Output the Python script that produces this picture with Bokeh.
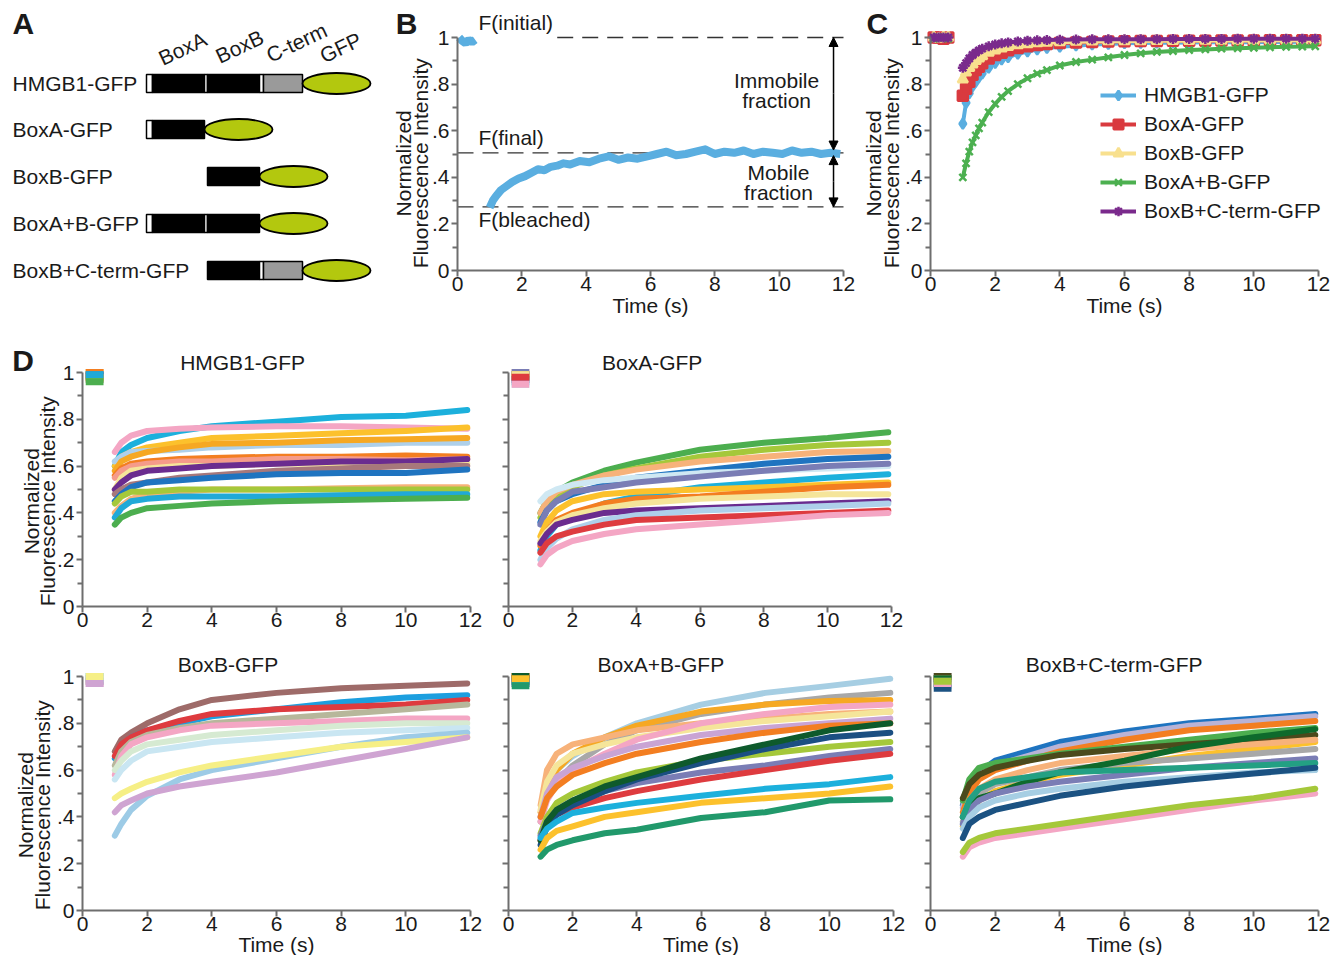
import math
from bokeh.plotting import figure
from bokeh.models import (Range1d, FixedTicker, CustomJSTickFormatter, Label,
                          Arrow, NormalHead, ColumnDataSource)
from bokeh.layouts import column, row
from bokeh.embed import file_html
from bokeh.resources import INLINE
from bokeh.core.properties import value

FONT = "Liberation Sans"
FS = "21px"
TXT = "#1a1a1a"
AXC = "#6e6e6e"

# ---------------- Panel A : construct diagram ----------------
CONSTRUCTS = ["HMGB1-GFP", "BoxA-GFP", "BoxB-GFP", "BoxA+B-GFP", "BoxB+C-term-GFP"]
SEG_EDGES = [146, 152, 204, 207, 259, 263, 302]          # diagram units
SEG_KIND = ["linker", "box", "linker", "box", "linker", "cterm"]
CONSTRUCT_SEGS = [[0, 1, 2, 3, 4, 5], [0, 1], [3], [0, 1, 2, 3], [3, 4, 5]]
ROW_Y = [83, 129, 176, 223, 270]
GFP_LEN = 68
DOMAIN_NAMES = ["BoxA", "BoxB", "C-term", "GFP"]
DOMAIN_NAME_X = [182, 239, 296, 340]
DOMAIN_NAME_Y = [48, 46, 42, 47]

# ---------------- Panel B : single FRAP curve ----------------
T_B_PRE = [0.05, 0.15, 0.25, 0.35, 0.45, 0.55]
B_PRE = [1.0, 0.985, 0.975, 0.99, 0.98, 0.99]
T_B = [1.0, 1.1, 1.2, 1.35, 1.5, 1.7, 1.9, 2.1, 2.3, 2.5, 2.7, 2.9, 3.1, 3.3, 3.5,
       3.8, 4.1, 4.4, 4.7, 5.0, 5.3, 5.6, 5.9, 6.2, 6.5, 6.8, 7.1, 7.4, 7.7, 8.0,
       8.3, 8.6, 8.9, 9.2, 9.5, 9.8, 10.1, 10.4, 10.7, 11.0, 11.3, 11.6, 11.9]
B_VALS = [0.27, 0.30, 0.32, 0.345, 0.36, 0.38, 0.395, 0.405, 0.42, 0.435, 0.43, 0.445,
          0.45, 0.46, 0.455, 0.47, 0.465, 0.48, 0.49, 0.475, 0.485, 0.48, 0.49, 0.50,
          0.51, 0.495, 0.50, 0.51, 0.52, 0.50, 0.51, 0.505, 0.515, 0.50, 0.51, 0.505,
          0.50, 0.515, 0.505, 0.51, 0.50, 0.505, 0.50]
F_INITIAL = 1.0
F_FINAL = 0.505
F_BLEACHED = 0.273

# ---------------- Panel C : averaged curves ----------------
C_NAMES = ["HMGB1-GFP", "BoxA-GFP", "BoxB-GFP", "BoxA+B-GFP", "BoxB+C-term-GFP"]
C_COLORS = ["#5aaee0", "#d93a3f", "#f8e08e", "#4cb050", "#7a2a8c"]
C_MARKERS = ["diamond", "square", "triangle", "x", "asterisk"]
T_C_PRE = [0.1, 0.25, 0.4, 0.55]
C_PRE = [[1.0, 0.995, 1.0, 0.995], [1.0, 1.0, 0.995, 1.0], [1.0, 0.995, 1.0, 1.0],
         [0.995, 1.0, 1.0, 0.995], [1.0, 1.0, 1.0, 1.0]]
T_C = [1.0, 1.1, 1.2, 1.3, 1.4, 1.5, 1.6, 1.8, 2.0, 2.2, 2.4, 2.7, 3.0, 3.3, 3.6, 4.0,
       4.5, 5.0, 5.5, 6.0, 6.5, 7.0, 7.5, 8.0, 8.5, 9.0, 9.5, 10.0, 10.5, 11.0, 11.5, 11.9]
C_HMGB1 = [0.63, 0.72, 0.76, 0.79, 0.81, 0.83, 0.845, 0.87, 0.89, 0.905, 0.915, 0.93,
           0.94, 0.948, 0.955, 0.96, 0.965, 0.97, 0.972, 0.975, 0.976, 0.977, 0.978,
           0.979, 0.98, 0.98, 0.98, 0.98, 0.981, 0.981, 0.982, 0.982]
C_BOXA = [0.75, 0.78, 0.81, 0.84, 0.86, 0.875, 0.89, 0.91, 0.925, 0.935, 0.945, 0.955,
          0.962, 0.968, 0.972, 0.976, 0.979, 0.981, 0.983, 0.984, 0.985, 0.985, 0.986,
          0.986, 0.986, 0.987, 0.987, 0.987, 0.988, 0.988, 0.988, 0.988]
C_BOXB = [0.82, 0.85, 0.87, 0.885, 0.9, 0.91, 0.92, 0.935, 0.945, 0.953, 0.96, 0.967,
          0.972, 0.976, 0.978, 0.98, 0.982, 0.983, 0.984, 0.985, 0.985, 0.986, 0.986,
          0.986, 0.987, 0.987, 0.987, 0.987, 0.988, 0.988, 0.988, 0.988]
C_BOXAB = [0.40, 0.46, 0.51, 0.55, 0.58, 0.61, 0.635, 0.68, 0.715, 0.745, 0.77, 0.80,
           0.825, 0.845, 0.86, 0.88, 0.895, 0.905, 0.915, 0.925, 0.932, 0.938, 0.942,
           0.946, 0.949, 0.952, 0.954, 0.956, 0.958, 0.96, 0.961, 0.962]
C_BOXBC = [0.87, 0.89, 0.91, 0.925, 0.935, 0.945, 0.952, 0.962, 0.97, 0.975, 0.979,
           0.983, 0.986, 0.988, 0.989, 0.99, 0.991, 0.992, 0.992, 0.993, 0.993, 0.993,
           0.994, 0.994, 0.994, 0.994, 0.995, 0.995, 0.995, 0.995, 0.995, 0.995]

# ---------------- Panel D : individual cells ----------------
T_D_PRE = [0.1, 0.35, 0.65]
T_D = [1.0, 1.2, 1.5, 2.0, 3.0, 4.0, 6.0, 8.0, 10.0, 11.9]

D1_COLORS = ["#1cb0dc", "#f4a6c4", "#fcc12c", "#aed0ea", "#f6a823", "#f37e21", "#f59b8a",
             "#f5e59a", "#6a2c8f", "#a7787b", "#1f74c0", "#f7b27a", "#a5c83a", "#20a9d8",
             "#4cae4f"]
D1_PRE = [0.99, 0.98, 1.0, 0.99, 0.985, 1.0, 0.98, 0.99, 0.985, 0.97, 0.99, 0.98, 0.975,
          0.99, 0.96]
D1_POST = [
    [0.60, 0.66, 0.69, 0.72, 0.75, 0.77, 0.79, 0.81, 0.815, 0.84],
    [0.66, 0.70, 0.73, 0.75, 0.76, 0.765, 0.77, 0.77, 0.765, 0.76],
    [0.60, 0.64, 0.66, 0.68, 0.70, 0.72, 0.73, 0.74, 0.75, 0.765],
    [0.62, 0.64, 0.66, 0.665, 0.67, 0.68, 0.69, 0.69, 0.70, 0.70],
    [0.58, 0.62, 0.64, 0.66, 0.68, 0.695, 0.70, 0.71, 0.715, 0.72],
    [0.56, 0.59, 0.61, 0.62, 0.63, 0.635, 0.64, 0.64, 0.645, 0.64],
    [0.55, 0.58, 0.60, 0.61, 0.62, 0.62, 0.63, 0.63, 0.625, 0.63],
    [0.50, 0.55, 0.58, 0.59, 0.60, 0.60, 0.61, 0.61, 0.61, 0.61],
    [0.50, 0.53, 0.56, 0.58, 0.59, 0.60, 0.61, 0.62, 0.62, 0.63],
    [0.48, 0.50, 0.52, 0.53, 0.55, 0.56, 0.58, 0.59, 0.60, 0.60],
    [0.45, 0.48, 0.51, 0.53, 0.54, 0.55, 0.565, 0.57, 0.57, 0.585],
    [0.40, 0.43, 0.46, 0.48, 0.49, 0.50, 0.50, 0.505, 0.51, 0.51],
    [0.44, 0.47, 0.49, 0.49, 0.50, 0.50, 0.50, 0.50, 0.50, 0.50],
    [0.38, 0.42, 0.45, 0.46, 0.47, 0.47, 0.47, 0.475, 0.48, 0.48],
    [0.35, 0.38, 0.40, 0.42, 0.43, 0.44, 0.45, 0.455, 0.46, 0.465],
]

D2_COLORS = ["#4cae4f", "#a5c83a", "#f7b27a", "#1f74c0", "#cfe8f3", "#7a7db5", "#1cb0dc",
             "#fcc12c", "#f37e21", "#f5e59a", "#6a2c8f", "#aed0ea", "#de3b3f", "#f4a6c4"]
D2_PRE = [0.99, 0.98, 1.0, 0.99, 0.97, 1.0, 0.96, 0.99, 0.98, 0.99, 0.97, 0.95, 0.98, 0.95]
D2_POST = [
    [0.40, 0.45, 0.49, 0.53, 0.58, 0.615, 0.67, 0.70, 0.72, 0.745],
    [0.38, 0.43, 0.47, 0.51, 0.56, 0.59, 0.64, 0.67, 0.69, 0.70],
    [0.40, 0.45, 0.49, 0.52, 0.56, 0.585, 0.62, 0.64, 0.66, 0.665],
    [0.36, 0.41, 0.45, 0.48, 0.52, 0.55, 0.58, 0.61, 0.63, 0.64],
    [0.45, 0.48, 0.50, 0.52, 0.54, 0.55, 0.57, 0.58, 0.59, 0.60],
    [0.35, 0.41, 0.45, 0.49, 0.51, 0.53, 0.555, 0.58, 0.60, 0.61],
    [0.24, 0.30, 0.35, 0.39, 0.44, 0.47, 0.51, 0.53, 0.55, 0.565],
    [0.30, 0.36, 0.41, 0.45, 0.48, 0.49, 0.50, 0.51, 0.52, 0.53],
    [0.26, 0.32, 0.37, 0.40, 0.44, 0.46, 0.47, 0.49, 0.51, 0.52],
    [0.28, 0.32, 0.36, 0.39, 0.42, 0.44, 0.46, 0.47, 0.48, 0.48],
    [0.27, 0.31, 0.35, 0.37, 0.40, 0.41, 0.42, 0.43, 0.44, 0.45],
    [0.20, 0.25, 0.29, 0.33, 0.37, 0.39, 0.41, 0.42, 0.43, 0.44],
    [0.23, 0.27, 0.30, 0.32, 0.35, 0.37, 0.38, 0.39, 0.40, 0.41],
    [0.18, 0.22, 0.25, 0.28, 0.31, 0.33, 0.35, 0.37, 0.39, 0.40],
]

D3_COLORS = ["#9e6b69", "#1c9fdf", "#de3b3f", "#b7b79b", "#f4a6c4", "#d6ead2", "#c9e6f2",
             "#9dcbe6", "#f6ef86", "#cfa4d2"]
D3_PRE = [0.99, 1.0, 0.98, 0.99, 0.97, 1.0, 0.99, 0.98, 1.0, 0.97]
D3_POST = [
    [0.68, 0.73, 0.76, 0.80, 0.86, 0.90, 0.93, 0.95, 0.96, 0.97],
    [0.65, 0.70, 0.74, 0.77, 0.80, 0.83, 0.86, 0.89, 0.91, 0.92],
    [0.66, 0.71, 0.74, 0.77, 0.81, 0.84, 0.86, 0.87, 0.88, 0.90],
    [0.62, 0.68, 0.72, 0.75, 0.78, 0.80, 0.82, 0.84, 0.86, 0.88],
    [0.58, 0.66, 0.71, 0.74, 0.77, 0.79, 0.80, 0.81, 0.82, 0.82],
    [0.60, 0.64, 0.68, 0.71, 0.73, 0.75, 0.77, 0.79, 0.80, 0.80],
    [0.56, 0.60, 0.64, 0.68, 0.70, 0.72, 0.74, 0.76, 0.77, 0.78],
    [0.32, 0.37, 0.43, 0.49, 0.56, 0.60, 0.65, 0.70, 0.74, 0.76],
    [0.48, 0.50, 0.52, 0.55, 0.59, 0.62, 0.66, 0.70, 0.72, 0.74],
    [0.42, 0.45, 0.47, 0.50, 0.53, 0.55, 0.59, 0.64, 0.69, 0.74],
]

D4_COLORS = ["#a6cee3", "#a8a8a8", "#f6a823", "#f7b27a", "#f5e59a", "#f4a6c4", "#c9a4d4",
             "#f37e21", "#a5c83a", "#7a7db5", "#de3b3f", "#1b4f82", "#0e5a2c", "#1cb0dc",
             "#fcc12c", "#21996b"]
D4_PRE = [0.99, 0.98, 1.0, 0.99, 0.98, 0.99, 0.97, 1.0, 0.99, 0.98, 0.99, 0.97, 1.0, 0.98,
          0.99, 0.96]
D4_POST = [
    [0.40, 0.52, 0.60, 0.66, 0.74, 0.80, 0.88, 0.93, 0.96, 0.99],
    [0.38, 0.48, 0.55, 0.62, 0.71, 0.77, 0.84, 0.88, 0.91, 0.93],
    [0.42, 0.52, 0.60, 0.67, 0.74, 0.79, 0.85, 0.88, 0.895, 0.90],
    [0.45, 0.60, 0.67, 0.71, 0.74, 0.77, 0.80, 0.82, 0.84, 0.85],
    [0.43, 0.55, 0.62, 0.67, 0.71, 0.74, 0.78, 0.81, 0.83, 0.85],
    [0.38, 0.47, 0.54, 0.60, 0.67, 0.73, 0.80, 0.84, 0.87, 0.88],
    [0.40, 0.50, 0.57, 0.61, 0.66, 0.70, 0.75, 0.78, 0.80, 0.82],
    [0.40, 0.48, 0.53, 0.58, 0.63, 0.67, 0.72, 0.76, 0.79, 0.80],
    [0.33, 0.40, 0.46, 0.50, 0.55, 0.59, 0.64, 0.67, 0.70, 0.72],
    [0.32, 0.38, 0.43, 0.47, 0.51, 0.545, 0.59, 0.62, 0.66, 0.69],
    [0.30, 0.36, 0.41, 0.44, 0.48, 0.51, 0.56, 0.60, 0.64, 0.67],
    [0.28, 0.36, 0.41, 0.45, 0.51, 0.56, 0.63, 0.69, 0.74, 0.76],
    [0.30, 0.38, 0.43, 0.47, 0.53, 0.57, 0.65, 0.71, 0.77, 0.80],
    [0.31, 0.35, 0.38, 0.417, 0.44, 0.46, 0.49, 0.52, 0.54, 0.57],
    [0.26, 0.31, 0.34, 0.36, 0.40, 0.42, 0.46, 0.48, 0.50, 0.53],
    [0.23, 0.26, 0.28, 0.30, 0.33, 0.345, 0.395, 0.42, 0.47, 0.475],
]

D5_COLORS = ["#1f74c0", "#b9b3d6", "#f37e21", "#4cae4f", "#4b4a1c", "#fcc12c", "#f7b27a",
             "#a8a8a8", "#0e6a2c", "#7a7db5", "#23a083", "#a6cee3", "#1b5282", "#f4a6c4",
             "#a5c83a"]
D5_PRE = [0.99, 1.0, 0.98, 0.99, 1.0, 0.98, 0.99, 0.97, 0.99, 0.98, 0.97, 0.96, 0.95, 0.97,
          0.98]
D5_POST = [
    [0.45, 0.53, 0.59, 0.64, 0.68, 0.72, 0.765, 0.80, 0.82, 0.84],
    [0.44, 0.52, 0.58, 0.62, 0.66, 0.70, 0.75, 0.79, 0.81, 0.83],
    [0.42, 0.50, 0.56, 0.60, 0.64, 0.68, 0.73, 0.77, 0.79, 0.81],
    [0.47, 0.56, 0.61, 0.63, 0.65, 0.67, 0.70, 0.73, 0.76, 0.78],
    [0.48, 0.54, 0.58, 0.61, 0.64, 0.665, 0.69, 0.71, 0.73, 0.75],
    [0.36, 0.42, 0.47, 0.51, 0.55, 0.58, 0.62, 0.66, 0.69, 0.72],
    [0.40, 0.47, 0.52, 0.56, 0.60, 0.63, 0.66, 0.69, 0.71, 0.73],
    [0.38, 0.45, 0.50, 0.54, 0.57, 0.60, 0.63, 0.65, 0.67, 0.69],
    [0.40, 0.45, 0.48, 0.50, 0.55, 0.59, 0.64, 0.70, 0.74, 0.775],
    [0.37, 0.43, 0.47, 0.50, 0.53, 0.55, 0.58, 0.61, 0.63, 0.65],
    [0.40, 0.47, 0.52, 0.55, 0.57, 0.59, 0.60, 0.61, 0.62, 0.63],
    [0.35, 0.40, 0.44, 0.47, 0.50, 0.52, 0.55, 0.57, 0.59, 0.60],
    [0.31, 0.37, 0.40, 0.43, 0.46, 0.49, 0.53, 0.56, 0.585, 0.61],
    [0.23, 0.27, 0.29, 0.31, 0.33, 0.35, 0.39, 0.43, 0.47, 0.50],
    [0.25, 0.29, 0.31, 0.33, 0.35, 0.37, 0.41, 0.45, 0.48, 0.52],
]

X_TICKS = [0, 2, 4, 6, 8, 10, 12]
Y_TICKS = [0, 0.2, 0.4, 0.6, 0.8, 1.0]
Y_MINOR = [0.1, 0.3, 0.5, 0.7, 0.9]


def make_fig(fig_x, fig_y, ax_x, ax_y, ytick_labels=True):
    """fig_x/fig_y: figure pixel box; ax_x/ax_y: axes pixel box (screen px)."""
    sx = (ax_x[1] - ax_x[0]) / 12.0
    sy = (ax_y[1] - ax_y[0]) / 1.0
    xr = Range1d(-(ax_x[0] - fig_x[0]) / sx, 12 + (fig_x[1] - ax_x[1]) / sx)
    yr = Range1d(-(fig_y[1] - ax_y[1]) / sy, 1 + (ax_y[0] - fig_y[0]) / sy)
    p = figure(width=fig_x[1] - fig_x[0], height=fig_y[1] - fig_y[0], x_range=xr,
               y_range=yr, output_backend="svg", toolbar_location=None, min_border=0)
    p.grid.visible = False
    p.outline_line_color = None
    p.background_fill_color = "white"
    p.border_fill_color = "white"
    for ax in (p.xaxis[0], p.yaxis[0]):
        ax.fixed_location = 0
        ax.axis_line_color = AXC
        ax.axis_line_width = 2
        ax.major_tick_line_color = AXC
        ax.major_tick_line_width = 2
        ax.major_tick_in = 0
        ax.major_tick_out = 6
        ax.minor_tick_line_color = AXC
        ax.minor_tick_line_width = 2
        ax.minor_tick_in = 0
        ax.minor_tick_out = 5
        ax.major_label_text_font = FONT
        ax.major_label_text_font_size = FS
        ax.major_label_text_color = TXT
        ax.major_label_standoff = 0
    p.xaxis[0].bounds = (0, 12)
    p.yaxis[0].bounds = (0, 1)
    p.yaxis[0].major_label_standoff = 2
    p.xaxis[0].ticker = FixedTicker(ticks=X_TICKS, minor_ticks=[])
    p.yaxis[0].ticker = FixedTicker(ticks=Y_TICKS, minor_ticks=Y_MINOR)
    p.yaxis[0].formatter = CustomJSTickFormatter(
        code="if (tick <= 0) {return '0';} if (tick >= 1) {return '1';}"
             " return tick.toFixed(1).replace(/^0/, '');")
    if not ytick_labels:
        p.yaxis[0].major_label_text_color = None
    return p


def add_label(p, x, y, text, size=FS, bold=False, align="left", baseline="middle",
              angle=0.0):
    p.add_layout(Label(x=x, y=y, text=text, text_font=FONT, text_font_size=size,
                       text_font_style="bold" if bold else "normal", text_color=TXT,
                       text_align=align, text_baseline=baseline, angle=angle))


def add_ylabel(p, x1, x2, yc):
    add_label(p, x1, yc, "Normalized", align="center", angle=math.pi / 2)
    add_label(p, x2, yc, "Fluorescence Intensity", align="center", angle=math.pi / 2)


def draw_cells(p, colors, pre, post):
    xs_pre = [T_D_PRE for _ in colors]
    ys_pre = [[v] * len(T_D_PRE) for v in pre]
    p.multi_line(xs=xs_pre, ys=ys_pre, line_color=colors, line_width=7)
    src = ColumnDataSource(dict(xs=[T_D for _ in colors], ys=post, c=colors))
    p.multi_line(xs="xs", ys="ys", line_color="c", line_width=6, line_join="round",
                 line_cap="round", source=src)


ROW1 = (0, 328)
ROW2 = (328, 636)
ROW3 = (636, 955)

# ---------------- build panel A ----------------
pa = figure(width=383, height=ROW1[1] - ROW1[0], x_range=Range1d(0, 383),
            y_range=Range1d(328, 0), output_backend="svg", toolbar_location=None,
            min_border=0)
pa.axis.visible = False
pa.grid.visible = False
pa.outline_line_color = None
KIND_COLOR = {"linker": "white", "box": "black", "cterm": "#9a9a9a"}
ql, qr, qt, qb, qc = [], [], [], [], []
gx, gy = [], []
for segs, yc in zip(CONSTRUCT_SEGS, ROW_Y):
    for s in segs:
        ql.append(SEG_EDGES[s]); qr.append(SEG_EDGES[s + 1])
        qt.append(yc - 9); qb.append(yc + 9); qc.append(KIND_COLOR[SEG_KIND[s]])
    gx.append(SEG_EDGES[segs[-1] + 1] + GFP_LEN / 2); gy.append(yc)
pa.quad(left=ql, right=qr, top=qt, bottom=qb, fill_color=qc, line_color="black",
        line_width=1.5)
pa.ellipse(x=gx, y=gy, width=GFP_LEN, height=21, fill_color="#b3c80e",
           line_color="black", line_width=1.8)
pa.text(x=[12] * len(CONSTRUCTS), y=ROW_Y, text=CONSTRUCTS, text_font=value(FONT),
        text_font_size=FS, text_color=TXT, text_baseline="middle", text_align="left")
pa.text(x=DOMAIN_NAME_X, y=DOMAIN_NAME_Y, text=DOMAIN_NAMES, text_font=value(FONT),
        text_font_size=FS, text_color=TXT, text_baseline="middle", text_align="center",
        angle=0.44)
pa.text(x=[12], y=[6], text=["A"], text_font=value(FONT), text_font_size="30px",
        text_font_style="bold", text_color=TXT, text_baseline="top", text_align="left")

# ---------------- build panel B ----------------
pb = make_fig((383, 856), ROW1, (457, 843), (37, 270))
pb.segment(x0=[3.1, 0, 0], x1=[12, 12, 12], y0=[F_INITIAL, F_FINAL, F_BLEACHED],
           y1=[F_INITIAL, F_FINAL, F_BLEACHED], line_color="#333333", line_width=1.3,
           line_dash="16 9")
pb.line(T_B_PRE, B_PRE, line_color="#5aaee0", line_width=8)
pb.line(T_B, B_VALS, line_color="#5aaee0", line_width=8, line_join="round")
for ys, ye in ((F_FINAL + 0.012, F_INITIAL), (F_FINAL - 0.012, F_BLEACHED)):
    for tgt in (ye, ys):
        pb.add_layout(Arrow(x_start=11.69, y_start=(ys + ye) / 2, x_end=11.69, y_end=tgt,
                            line_width=1.5, line_color="black",
                            end=NormalHead(size=9, fill_color="black", line_color="black")))
add_label(pb, 0.65, 1.064, "F(initial)")
add_label(pb, 0.65, 0.571, "F(final)")
add_label(pb, 0.65, 0.219, "F(bleached)")
add_label(pb, 9.92, 0.815, "Immobile", align="center")
add_label(pb, 9.92, 0.73, "fraction", align="center")
add_label(pb, 9.98, 0.42, "Mobile", align="center")
add_label(pb, 9.98, 0.335, "fraction", align="center")
add_label(pb, -1.92, 1.133, "B", size="30px", bold=True, baseline="top")
add_label(pb, 6, -0.152, "Time (s)", align="center")
add_ylabel(pb, -1.68, -1.15, 0.46)

# ---------------- build panel C ----------------
pc = make_fig((856, 1331), ROW1, (930, 1318), (37, 270))
C_SERIES = [C_HMGB1, C_BOXA, C_BOXB, C_BOXAB, C_BOXBC]
for name, col, mk, pre, vals in zip(C_NAMES, C_COLORS, C_MARKERS, C_PRE, C_SERIES):
    pc.line(T_C_PRE, pre, line_color=col, line_width=4)
    pc.scatter(T_C_PRE, pre, marker=mk, size=10, fill_color=col, line_color=col,
               line_width=2.5)
    pc.line(T_C, vals, line_color=col, line_width=4, legend_label=name)
    pc.scatter(T_C, vals, marker=mk, size=10, fill_color=col, line_color=col,
               line_width=2.5, legend_label=name)
lg = pc.legend[0]
lg.location = (244, 105)
lg.background_fill_alpha = 0
lg.border_line_color = None
lg.label_text_font = FONT
lg.label_text_font_size = FS
lg.label_text_color = TXT
lg.glyph_width = 36
lg.glyph_height = 24
lg.label_height = 24
lg.spacing = 5
lg.padding = 0
lg.margin = 0
lg.label_standoff = 8
add_label(pc, -1.98, 1.133, "C", size="30px", bold=True, baseline="top")
add_label(pc, 6, -0.152, "Time (s)", align="center")
add_ylabel(pc, -1.76, -1.21, 0.46)

# ---------------- build panel D ----------------
pd1 = make_fig((0, 486), ROW2, (82, 470), (372, 606))
draw_cells(pd1, D1_COLORS, D1_PRE, D1_POST)
add_label(pd1, 4.95, 1.043, "HMGB1-GFP", align="center")
add_label(pd1, -2.17, 1.12, "D", size="30px", bold=True, baseline="top")
add_ylabel(pd1, -1.58, -1.08, 0.45)

pd2 = make_fig((486, 907), ROW2, (508, 891), (372, 606), ytick_labels=False)
draw_cells(pd2, D2_COLORS, D2_PRE, D2_POST)
add_label(pd2, 4.5, 1.043, "BoxA-GFP", align="center")

pd3 = make_fig((0, 486), ROW3, (82, 470), (676, 910))
draw_cells(pd3, D3_COLORS, D3_PRE, D3_POST)
add_label(pd3, 4.5, 1.051, "BoxB-GFP", align="center")
add_label(pd3, 6, -0.147, "Time (s)", align="center")
add_ylabel(pd3, -1.75, -1.25, 0.45)

pd4 = make_fig((486, 908), ROW3, (508, 893), (676, 910), ytick_labels=False)
draw_cells(pd4, D4_COLORS, D4_PRE, D4_POST)
add_label(pd4, 4.75, 1.051, "BoxA+B-GFP", align="center")
add_label(pd4, 6, -0.147, "Time (s)", align="center")

pd5 = make_fig((908, 1331), ROW3, (930, 1318), (676, 910), ytick_labels=False)
draw_cells(pd5, D5_COLORS, D5_PRE, D5_POST)
add_label(pd5, 5.68, 1.051, "BoxB+C-term-GFP", align="center")
add_label(pd5, 6, -0.147, "Time (s)", align="center")

layout = column(row(pa, pb, pc), row(pd1, pd2), row(pd3, pd4, pd5))
open("out.html", "w").write(file_html(layout, INLINE))
